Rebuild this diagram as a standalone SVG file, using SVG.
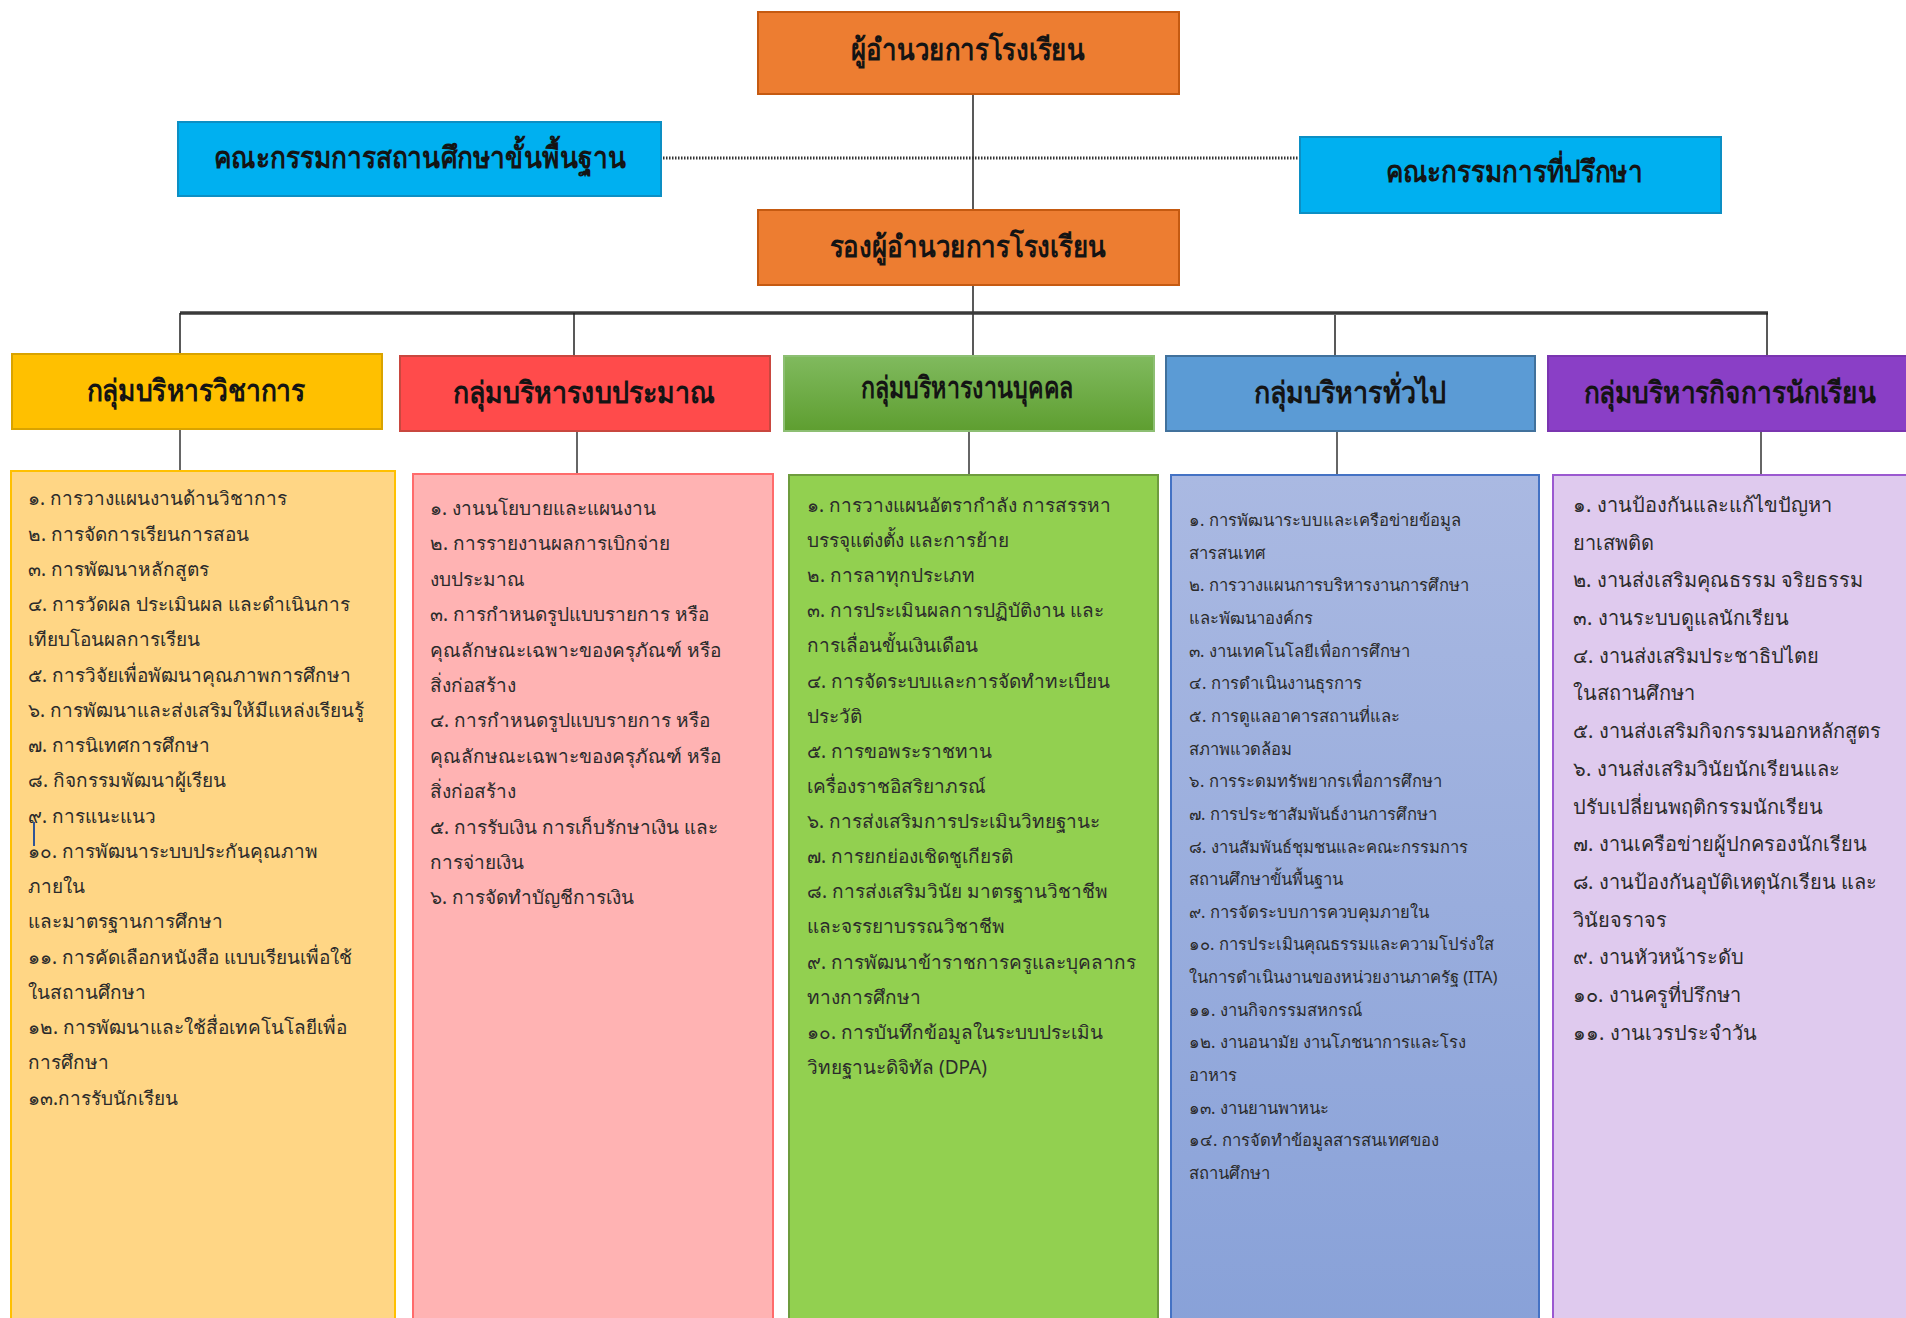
<svg xmlns="http://www.w3.org/2000/svg" width="1906" height="1318" viewBox="0 0 1906 1318">
<defs>
<linearGradient id="gGreen" x1="0" y1="0" x2="0" y2="1"><stop offset="0" stop-color="#80BA5E"/><stop offset="1" stop-color="#5E9E30"/></linearGradient>
<linearGradient id="gBlue" x1="0" y1="0" x2="0" y2="1"><stop offset="0" stop-color="#AAB9E2"/><stop offset="1" stop-color="#88A1D8"/></linearGradient>
<style>
.hd{font-family:"Noto Sans","DejaVu Sans",sans-serif;font-weight:bold;fill:#141414;text-anchor:middle;dominant-baseline:central;}
.tx{font-family:"Noto Sans","DejaVu Sans",sans-serif;fill:#2b2b2b;font-size:19px;}
.t4{font-size:16.6px;}
.t5{font-size:20px;}
.ln{stroke:#222;stroke-width:1.5;fill:none;}
.dr{stroke:#666;stroke-width:2;fill:none;}
</style>
</defs>
<rect width="1906" height="1318" fill="#fff"/>
<g id="connectors">
<line class="ln" x1="973" y1="94" x2="973" y2="356"/>
<line x1="663" y1="158" x2="1298" y2="158" stroke="#333" stroke-width="3" stroke-dasharray="1.5,1.5"/>
<line x1="180" y1="313" x2="1768" y2="313" stroke="#3a3a3a" stroke-width="3.5"/>
<line class="ln" x1="180" y1="313" x2="180" y2="356"/>
<line class="ln" x1="574" y1="313" x2="574" y2="357"/>
<line class="ln" x1="1335" y1="315" x2="1335" y2="358"/>
<line class="ln" x1="1767" y1="313" x2="1767" y2="356"/>
<line class="dr" x1="180" y1="430" x2="180" y2="471"/>
<line class="dr" x1="577" y1="432" x2="577" y2="474"/>
<line class="dr" x1="969" y1="432" x2="969" y2="475"/>
<line class="dr" x1="1337" y1="432" x2="1337" y2="475"/>
<line class="dr" x1="1761" y1="432" x2="1761" y2="475"/>
</g>
<g id="director">
<rect x="758" y="12" width="421" height="82" fill="#ED7D31" stroke="#C55A11" stroke-width="2"/>
<text class="hd" x="968" y="48" font-size="30" textLength="234" lengthAdjust="spacingAndGlyphs">ผู้อำนวยการโรงเรียน</text>
</g>
<g id="board">
<rect x="178" y="122" width="483" height="74" fill="#00B0F0" stroke="#0C8FC4" stroke-width="2"/>
<text class="hd" x="420" y="156" font-size="30" textLength="412" lengthAdjust="spacingAndGlyphs">คณะกรรมการสถานศึกษาขั้นพื้นฐาน</text>
</g>
<g id="advisors">
<rect x="1300" y="137" width="421" height="76" fill="#00B0F0" stroke="#0C8FC4" stroke-width="2"/>
<text class="hd" x="1514" y="170" font-size="30" textLength="257" lengthAdjust="spacingAndGlyphs">คณะกรรมการที่ปรึกษา</text>
</g>
<g id="deputy">
<rect x="758" y="210" width="421" height="75" fill="#ED7D31" stroke="#C55A11" stroke-width="2"/>
<text class="hd" x="968" y="245" font-size="30" textLength="277" lengthAdjust="spacingAndGlyphs">รองผู้อำนวยการโรงเรียน</text>
</g>
<g id="academic-head">
<rect x="12" y="354" width="370" height="75" fill="#FFC000" stroke="#D9A300" stroke-width="2"/>
<text class="hd" x="196" y="389" font-size="30" textLength="219" lengthAdjust="spacingAndGlyphs">กลุ่มบริหารวิชาการ</text>
</g>
<g id="budget-head">
<rect x="400" y="356" width="370" height="75" fill="#FF4B4B" stroke="#C9473F" stroke-width="2"/>
<text class="hd" x="584" y="391" font-size="30" textLength="262" lengthAdjust="spacingAndGlyphs">กลุ่มบริหารงบประมาณ</text>
</g>
<g id="personnel-head">
<rect x="784" y="356" width="370" height="75" fill="url(#gGreen)" stroke="#8DBF73" stroke-width="2"/>
<text class="hd" x="967" y="386" font-size="30" textLength="212" lengthAdjust="spacingAndGlyphs">กลุ่มบริหารงานบุคคล</text>
</g>
<g id="general-head">
<rect x="1166" y="356" width="369" height="75" fill="#5B9BD5" stroke="#41719C" stroke-width="2"/>
<text class="hd" x="1350" y="391" font-size="30" textLength="193" lengthAdjust="spacingAndGlyphs">กลุ่มบริหารทั่วไป</text>
</g>
<g id="student-head">
<rect x="1548" y="356" width="370" height="75" fill="#8A3FC6" stroke="#7A35B0" stroke-width="2"/>
<text class="hd" x="1730" y="391" font-size="30" textLength="293" lengthAdjust="spacingAndGlyphs">กลุ่มบริหารกิจการนักเรียน</text>
</g>
<g id="academic-tasks">
<rect x="11" y="471" width="384" height="860" fill="#FFD685" stroke="#FFC000" stroke-width="2"/>
<line x1="34" y1="822" x2="34" y2="846" stroke="#2F5597" stroke-width="2"/>
<text class="tx" x="28" y="505">๑. การวางแผนงานด้านวิชาการ</text>
<text class="tx" x="28" y="541">๒. การจัดการเรียนการสอน</text>
<text class="tx" x="28" y="576">๓. การพัฒนาหลักสูตร</text>
<text class="tx" x="28" y="611">๔. การวัดผล ประเมินผล และดำเนินการ</text>
<text class="tx" x="28" y="646">เทียบโอนผลการเรียน</text>
<text class="tx" x="28" y="682">๕. การวิจัยเพื่อพัฒนาคุณภาพการศึกษา</text>
<text class="tx" x="28" y="717">๖. การพัฒนาและส่งเสริมให้มีแหล่งเรียนรู้</text>
<text class="tx" x="28" y="752">๗. การนิเทศการศึกษา</text>
<text class="tx" x="28" y="787">๘. กิจกรรมพัฒนาผู้เรียน</text>
<text class="tx" x="28" y="823">๙. การแนะแนว</text>
<text class="tx" x="28" y="858">๑๐. การพัฒนาระบบประกันคุณภาพ</text>
<text class="tx" x="28" y="893">ภายใน</text>
<text class="tx" x="28" y="928">และมาตรฐานการศึกษา</text>
<text class="tx" x="28" y="964">๑๑. การคัดเลือกหนังสือ แบบเรียนเพื่อใช้</text>
<text class="tx" x="28" y="999">ในสถานศึกษา</text>
<text class="tx" x="28" y="1034">๑๒. การพัฒนาและใช้สื่อเทคโนโลยีเพื่อ</text>
<text class="tx" x="28" y="1069">การศึกษา</text>
<text class="tx" x="28" y="1105">๑๓.การรับนักเรียน</text>
</g>
<g id="budget-tasks">
<rect x="413" y="474" width="360" height="860" fill="#FFB3B3" stroke="#FF6B6B" stroke-width="2"/>
<text class="tx" x="430" y="515">๑. งานนโยบายและแผนงาน</text>
<text class="tx" x="430" y="550">๒. การรายงานผลการเบิกจ่าย</text>
<text class="tx" x="430" y="586">งบประมาณ</text>
<text class="tx" x="430" y="621">๓. การกำหนดรูปแบบรายการ หรือ</text>
<text class="tx" x="430" y="657">คุณลักษณะเฉพาะของครุภัณฑ์ หรือ</text>
<text class="tx" x="430" y="692">สิ่งก่อสร้าง</text>
<text class="tx" x="430" y="727">๔. การกำหนดรูปแบบรายการ หรือ</text>
<text class="tx" x="430" y="763">คุณลักษณะเฉพาะของครุภัณฑ์ หรือ</text>
<text class="tx" x="430" y="798">สิ่งก่อสร้าง</text>
<text class="tx" x="430" y="834">๕. การรับเงิน การเก็บรักษาเงิน และ</text>
<text class="tx" x="430" y="869">การจ่ายเงิน</text>
<text class="tx" x="430" y="904">๖. การจัดทำบัญชีการเงิน</text>
</g>
<g id="personnel-tasks">
<rect x="789" y="475" width="369" height="860" fill="#92D050" stroke="#6E9C3E" stroke-width="2"/>
<text class="tx" x="807" y="512">๑. การวางแผนอัตรากำลัง การสรรหา</text>
<text class="tx" x="807" y="547">บรรจุแต่งตั้ง และการย้าย</text>
<text class="tx" x="807" y="582">๒. การลาทุกประเภท</text>
<text class="tx" x="807" y="617">๓. การประเมินผลการปฏิบัติงาน และ</text>
<text class="tx" x="807" y="652">การเลื่อนขั้นเงินเดือน</text>
<text class="tx" x="807" y="688">๔. การจัดระบบและการจัดทำทะเบียน</text>
<text class="tx" x="807" y="723">ประวัติ</text>
<text class="tx" x="807" y="758">๕. การขอพระราชทาน</text>
<text class="tx" x="807" y="793">เครื่องราชอิสริยาภรณ์</text>
<text class="tx" x="807" y="828">๖. การส่งเสริมการประเมินวิทยฐานะ</text>
<text class="tx" x="807" y="863">๗. การยกย่องเชิดชูเกียรติ</text>
<text class="tx" x="807" y="898">๘. การส่งเสริมวินัย มาตรฐานวิชาชีพ</text>
<text class="tx" x="807" y="933">และจรรยาบรรณวิชาชีพ</text>
<text class="tx" x="807" y="969">๙. การพัฒนาข้าราชการครูและบุคลากร</text>
<text class="tx" x="807" y="1004">ทางการศึกษา</text>
<text class="tx" x="807" y="1039">๑๐. การบันทึกข้อมูลในระบบประเมิน</text>
<text class="tx" x="807" y="1074">วิทยฐานะดิจิทัล (DPA)</text>
</g>
<g id="general-tasks">
<rect x="1171" y="475" width="368" height="860" fill="url(#gBlue)" stroke="#4472C4" stroke-width="2"/>
<text class="tx t4" x="1189" y="526">๑. การพัฒนาระบบและเครือข่ายข้อมูล</text>
<text class="tx t4" x="1189" y="559">สารสนเทศ</text>
<text class="tx t4" x="1189" y="591">๒. การวางแผนการบริหารงานการศึกษา</text>
<text class="tx t4" x="1189" y="624">และพัฒนาองค์กร</text>
<text class="tx t4" x="1189" y="657">๓. งานเทคโนโลยีเพื่อการศึกษา</text>
<text class="tx t4" x="1189" y="689">๔. การดำเนินงานธุรการ</text>
<text class="tx t4" x="1189" y="722">๕. การดูแลอาคารสถานที่และ</text>
<text class="tx t4" x="1189" y="755">สภาพแวดล้อม</text>
<text class="tx t4" x="1189" y="787">๖. การระดมทรัพยากรเพื่อการศึกษา</text>
<text class="tx t4" x="1189" y="820">๗. การประชาสัมพันธ์งานการศึกษา</text>
<text class="tx t4" x="1189" y="853">๘. งานสัมพันธ์ชุมชนและคณะกรรมการ</text>
<text class="tx t4" x="1189" y="885">สถานศึกษาขั้นพื้นฐาน</text>
<text class="tx t4" x="1189" y="918">๙. การจัดระบบการควบคุมภายใน</text>
<text class="tx t4" x="1189" y="950">๑๐. การประเมินคุณธรรมและความโปร่งใส</text>
<text class="tx t4" x="1189" y="983">ในการดำเนินงานของหน่วยงานภาครัฐ (ITA)</text>
<text class="tx t4" x="1189" y="1016">๑๑. งานกิจกรรมสหกรณ์</text>
<text class="tx t4" x="1189" y="1048">๑๒. งานอนามัย งานโภชนาการและโรง</text>
<text class="tx t4" x="1189" y="1081">อาหาร</text>
<text class="tx t4" x="1189" y="1114">๑๓. งานยานพาหนะ</text>
<text class="tx t4" x="1189" y="1146">๑๔. การจัดทำข้อมูลสารสนเทศของ</text>
<text class="tx t4" x="1189" y="1179">สถานศึกษา</text>
</g>
<g id="student-tasks">
<rect x="1553" y="475" width="370" height="860" fill="#DFCAEE" stroke="#9B59D0" stroke-width="2"/>
<text class="tx t5" x="1573" y="512">๑. งานป้องกันและแก้ไขปัญหา</text>
<text class="tx t5" x="1573" y="550">ยาเสพติด</text>
<text class="tx t5" x="1573" y="587">๒. งานส่งเสริมคุณธรรม จริยธรรม</text>
<text class="tx t5" x="1573" y="625">๓. งานระบบดูแลนักเรียน</text>
<text class="tx t5" x="1573" y="663">๔. งานส่งเสริมประชาธิปไตย</text>
<text class="tx t5" x="1573" y="700">ในสถานศึกษา</text>
<text class="tx t5" x="1573" y="738">๕. งานส่งเสริมกิจกรรมนอกหลักสูตร</text>
<text class="tx t5" x="1573" y="776">๖. งานส่งเสริมวินัยนักเรียนและ</text>
<text class="tx t5" x="1573" y="814">ปรับเปลี่ยนพฤติกรรมนักเรียน</text>
<text class="tx t5" x="1573" y="851">๗. งานเครือข่ายผู้ปกครองนักเรียน</text>
<text class="tx t5" x="1573" y="889">๘. งานป้องกันอุบัติเหตุนักเรียน และ</text>
<text class="tx t5" x="1573" y="927">วินัยจราจร</text>
<text class="tx t5" x="1573" y="964">๙. งานหัวหน้าระดับ</text>
<text class="tx t5" x="1573" y="1002">๑๐. งานครูที่ปรึกษา</text>
<text class="tx t5" x="1573" y="1040">๑๑. งานเวรประจำวัน</text>
</g>
</svg>
